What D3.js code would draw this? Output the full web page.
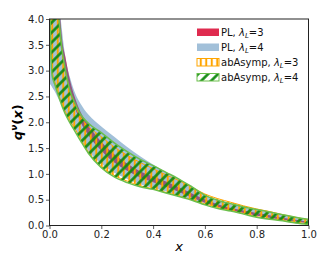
<!DOCTYPE html>
<html>
<head>
<meta charset="utf-8">
<script src="https://cdn.jsdelivr.net/npm/d3@7"></script>
<style>
body { margin: 0; background: #fff; }
text { font-family: "DejaVu Sans", sans-serif; }
</style>
</head>
<body>
<script>
// x grid shared by every band
var xs = [0, 0.005, 0.01, 0.02, 0.03, 0.04, 0.05, 0.06, 0.08, 0.1, 0.12, 0.15, 0.2, 0.25, 0.3, 0.35, 0.4, 0.45, 0.5, 0.55, 0.6, 0.65, 0.7, 0.75, 0.8, 0.85, 0.9, 0.95, 1.0];

// PL, lambda_L = 3
var plL3Lo = [8.5, 7.0, 6.0, 4.8, 4.1, 3.6, 3.25, 3.0, 2.55, 2.25, 2.0, 1.75, 1.45, 1.22, 1.06, 0.93, 0.84, 0.75, 0.65, 0.54, 0.44, 0.36, 0.29, 0.24, 0.19, 0.15, 0.11, 0.08, 0.04];
var plL3Hi = [9.5, 8.0, 7.0, 5.5, 4.6, 4.1, 3.55, 3.3, 2.8, 2.45, 2.2, 1.95, 1.62, 1.38, 1.2, 1.05, 0.95, 0.85, 0.74, 0.62, 0.51, 0.41, 0.34, 0.29, 0.24, 0.2, 0.15, 0.11, 0.07];
// PL, lambda_L = 4
var plL4Lo = [2.75, 2.72, 2.68, 2.6, 2.5, 2.4, 2.3, 2.19, 2.01, 1.85, 1.68, 1.45, 1.2, 1.02, 0.9, 0.8, 0.73, 0.66, 0.58, 0.5, 0.43, 0.37, 0.31, 0.25, 0.19, 0.14, 0.1, 0.06, 0.03];
var plL4Hi = [8.0, 7.5, 7.0, 6.0, 5.0, 4.2, 3.7, 3.3, 2.85, 2.55, 2.36, 2.15, 1.92, 1.72, 1.52, 1.34, 1.18, 1.03, 0.9, 0.75, 0.59, 0.48, 0.41, 0.35, 0.3, 0.25, 0.2, 0.15, 0.1];
// abAsymp, lambda_L = 3
var abL3Lo = [4.6, 3.5, 3.0, 2.8, 2.63, 2.47, 2.33, 2.22, 2.02, 1.86, 1.68, 1.43, 1.14, 0.97, 0.86, 0.77, 0.71, 0.64, 0.57, 0.5, 0.42, 0.35, 0.29, 0.23, 0.17, 0.13, 0.1, 0.06, 0.03];
var abL3Hi = [8.0, 7.2, 6.6, 5.3, 4.4, 3.75, 3.3, 3.0, 2.56, 2.3, 2.1, 1.92, 1.72, 1.52, 1.36, 1.22, 1.1, 0.98, 0.87, 0.74, 0.61, 0.52, 0.45, 0.38, 0.32, 0.27, 0.21, 0.16, 0.11];
// abAsymp, lambda_L = 4
var abL4Lo = [4.5, 3.4, 2.91, 2.74, 2.58, 2.43, 2.29, 2.17, 1.98, 1.81, 1.64, 1.4, 1.12, 0.94, 0.83, 0.75, 0.7, 0.63, 0.56, 0.49, 0.4, 0.33, 0.28, 0.22, 0.16, 0.12, 0.09, 0.05, 0.02];
var abL4Hi = [8.0, 7.5, 7.0, 5.5, 4.5, 3.8, 3.35, 3.05, 2.6, 2.35, 2.15, 1.98, 1.8, 1.6, 1.43, 1.28, 1.16, 1.03, 0.9, 0.75, 0.59, 0.49, 0.42, 0.36, 0.31, 0.26, 0.21, 0.16, 0.12];

var xTicks = [0, 0.2, 0.4, 0.6, 0.8, 1.0];
var yTicks = [0, 0.5, 1.0, 1.5, 2.0, 2.5, 3.0, 3.5, 4.0];
var legendNames = ["PL, ", "PL, ", "abAsymp, ", "abAsymp, "];
var legendLambda = ["3", "4", "3", "4"];

var W = 332, H = 266;
var pLeft = 49.5, pRight = 308.5, pTop = 19, pBottom = 225.5;

var svg = d3.select("body").append("svg")
    .attr("width", W)
    .attr("height", H);

var defs = svg.append("defs");
defs.append("clipPath").attr("id", "plotclip")
    .append("rect")
    .attr("x", pLeft).attr("y", pTop)
    .attr("width", pRight - pLeft).attr("height", pBottom - pTop);

// vertical orange hatch
var pOr = defs.append("pattern").attr("id", "hatchOrange")
    .attr("patternUnits", "userSpaceOnUse")
    .attr("width", 5.5).attr("height", 10);
pOr.append("line").attr("x1", 2.75).attr("y1", 0).attr("x2", 2.75).attr("y2", 10)
    .attr("stroke", "#ffa500").attr("stroke-width", 2);

// diagonal green hatch
var pGr = defs.append("pattern").attr("id", "hatchGreen")
    .attr("patternUnits", "userSpaceOnUse")
    .attr("width", 7).attr("height", 7)
    .attr("patternTransform", "rotate(45)");
pGr.append("line").attr("x1", 3.5).attr("y1", 0).attr("x2", 3.5).attr("y2", 7)
    .attr("stroke", "#118a11").attr("stroke-width", 2.6);

var xScale = d3.scaleLinear().domain([0, 1]).range([pLeft, pRight]);
var yScale = d3.scaleLinear().domain([0, 4]).range([pBottom, pTop]);

function band(lo, hi) {
    return d3.area()
        .x((d, i) => xScale(xs[i]))
        .y0((d, i) => yScale(lo[i]))
        .y1((d, i) => yScale(hi[i]))
        .curve(d3.curveMonotoneX)(xs);
}

var plot = svg.append("g").attr("clip-path", "url(#plotclip)");

plot.append("path")
    .attr("d", band(plL3Lo, plL3Hi))
    .attr("fill", "#dc143c")
    .attr("fill-opacity", 0.9);
plot.append("path")
    .attr("d", band(plL4Lo, plL4Hi))
    .attr("fill", "#4682b4")
    .attr("fill-opacity", 0.5);
plot.append("path")
    .attr("d", band(abL3Lo, abL3Hi))
    .attr("fill", "url(#hatchOrange)")
    .attr("stroke", "#ffa500")
    .attr("stroke-width", 1);
plot.append("path")
    .attr("d", band(abL4Lo, abL4Hi))
    .attr("fill", "url(#hatchGreen)")
    .attr("stroke", "#6cbf4c")
    .attr("stroke-width", 1.5);

// axes
var xAxis = svg.append("g")
    .attr("transform", "translate(0," + pBottom + ")")
    .call(d3.axisBottom(xScale).tickValues(xTicks).tickFormat(d3.format(".1f")).tickSizeOuter(0).tickSize(3.5));
var yAxis = svg.append("g")
    .attr("transform", "translate(" + pLeft + ",0)")
    .call(d3.axisLeft(yScale).tickValues(yTicks).tickFormat(d3.format(".1f")).tickSizeOuter(0).tickSize(3.5));
[xAxis, yAxis].forEach(function (a) {
    a.selectAll("path").remove();
    a.selectAll("line").attr("stroke", "#333").attr("stroke-width", 0.8);
    a.selectAll("text").attr("fill", "#222").style("font-size", "10px")
        .style("font-family", "'DejaVu Sans', sans-serif");
});
xAxis.selectAll("text").attr("dy", "0.72em").attr("y", 5.5);
yAxis.selectAll("text").attr("x", -5.5);

// frame
svg.append("rect")
    .attr("x", pLeft).attr("y", pTop)
    .attr("width", pRight - pLeft).attr("height", pBottom - pTop)
    .attr("fill", "none")
    .attr("stroke", "#222")
    .attr("stroke-width", 1);

// axis labels
svg.append("text")
    .attr("x", (pLeft + pRight) / 2).attr("y", 251)
    .attr("text-anchor", "middle")
    .style("font-size", "13px").style("font-style", "italic")
    .text("x");
var yl = svg.append("text")
    .attr("transform", "translate(22," + (pTop + pBottom) / 2 + ") rotate(-90)")
    .attr("text-anchor", "middle")
    .style("font-size", "13px").style("font-weight", "bold");
yl.append("tspan").style("font-style", "italic").text("q");
yl.append("tspan").style("font-style", "italic").style("font-size", "9px").attr("dy", -5).text("ν");
yl.append("tspan").attr("dy", 5).text("(");
yl.append("tspan").style("font-style", "italic").text("x");
yl.append("tspan").text(")");

// legend
var legFill = [
    { fill: "#dc143c", opacity: 0.9, stroke: "none" },
    { fill: "#4682b4", opacity: 0.5, stroke: "none" },
    { fill: "url(#hatchOrange)", opacity: 1, stroke: "#ffa500" },
    { fill: "url(#hatchGreen)", opacity: 1, stroke: "#6cbf4c" }
];
var legY = [32, 47, 62, 77];
legendNames.forEach(function (name, i) {
    var g = svg.append("g");
    g.append("rect")
        .attr("x", 197).attr("y", legY[i] - 3.5)
        .attr("width", 22).attr("height", 7.5)
        .attr("fill", legFill[i].fill)
        .attr("fill-opacity", legFill[i].opacity)
        .attr("stroke", legFill[i].stroke)
        .attr("stroke-width", 1);
    var t = g.append("text")
        .attr("x", 221).attr("y", legY[i] + 3.5)
        .style("font-size", "10px").attr("fill", "#111");
    t.append("tspan").text(name);
    t.append("tspan").style("font-style", "italic").text("λ");
    t.append("tspan").style("font-style", "italic").style("font-size", "7px").attr("dy", 2).text("L");
    t.append("tspan").attr("dy", -2).text("=" + legendLambda[i]);
});
</script>
</body>
</html>
